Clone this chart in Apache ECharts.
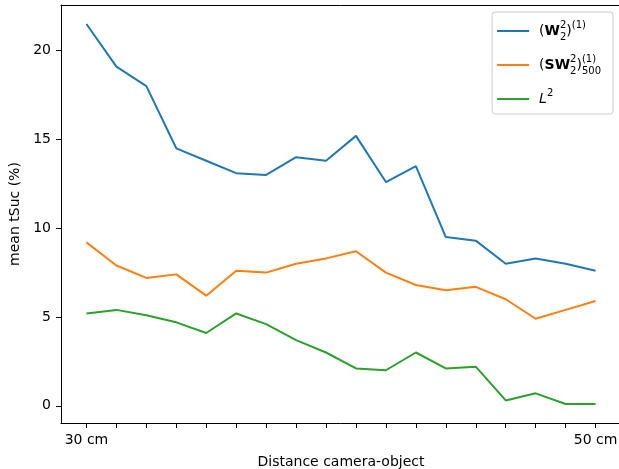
<!DOCTYPE html>
<html>
<head>
<meta charset="utf-8">
<script src="https://cdn.jsdelivr.net/npm/echarts@6/dist/echarts.min.js"></script>
<style>
  html, body { margin: 0; padding: 0; background: #fff; }
  #chart { width: 619px; height: 469px; }
</style>
</head>
<body>
<div id="chart"></div>
<script>
  // distance steps, 30 cm .. 50 cm, only ends are labelled
  const distanceLabels = ['30 cm', '', '', '', '', '', '', '', '', '', '', '', '', '', '', '', '', '50 cm'];
  const yTicks = [0, 5, 10, 15, 20];

  const w2 = [21.5, 19.1, 18.0, 14.5, 13.8, 13.1, 13.0, 14.0, 13.8, 15.2, 12.6, 13.5, 9.5, 9.3, 8.0, 8.3, 8.0, 7.6];
  const sw2 = [9.2, 7.9, 7.2, 7.4, 6.2, 7.6, 7.5, 8.0, 8.3, 8.7, 7.5, 6.8, 6.5, 6.7, 6.0, 4.9, 5.4, 5.9];
  const l2 = [5.2, 5.4, 5.1, 4.7, 4.1, 5.2, 4.6, 3.7, 3.0, 2.1, 2.0, 3.0, 2.1, 2.2, 0.3, 0.7, 0.1, 0.1];

  const seriesNames = ['W2', 'SW2', 'L2'];
  const seriesColors = ['#1f77b4', '#ff7f0e', '#2ca02c'];
  const seriesData = [w2, sw2, l2];

  const font = 'DejaVu Sans';
  const positions = distanceLabels.map((_, i) => i);

  const legendText = {
    W2: '{n|(}{b|W}{supz|2}{sub|2}{n|)}{sup|(1)}',
    SW2: '{n|(}{b|SW}{supz|2}{sub|2}{n|)}{supz|(1)}{sub|500}',
    L2: '{i|L}{sup|2}',
  };

  const spine = { show: true, onZero: false, lineStyle: { color: '#000', width: 1 } };

  const chart = echarts.init(document.getElementById('chart'));

  chart.setOption({
    animation: false,
    textStyle: { fontFamily: font, color: '#000' },
    grid: {
      left: 61,
      top: 5,
      width: 560,
      height: 418,
      outerBoundsMode: 'none',
    },
    legend: {
      orient: 'vertical',
      right: 6,
      top: 12,
      padding: [8, 12, 8, 5],
      icon: 'rect',
      itemWidth: 32,
      itemHeight: 2,
      itemGap: 12,
      backgroundColor: 'rgba(255,255,255,0.8)',
      borderColor: '#cccccc',
      borderWidth: 1,
      borderRadius: 3,
      data: seriesNames,
      formatter: (name) => legendText[name],
      textStyle: {
        fontFamily: font,
        fontSize: 14,
        color: '#000',
        padding: [0, 0, 0, 5],
        rich: {
          n: { fontFamily: font, fontSize: 14, lineHeight: 22 },
          b: { fontFamily: font, fontSize: 14, fontWeight: 'bold', lineHeight: 22 },
          i: { fontFamily: font, fontSize: 14, fontStyle: 'italic', lineHeight: 22 },
          sup: { fontFamily: font, fontSize: 10, lineHeight: 12, verticalAlign: 'top' },
          supz: { fontFamily: font, fontSize: 10, lineHeight: 12, verticalAlign: 'top', width: 0 },
          sub: { fontFamily: font, fontSize: 10, lineHeight: 12, verticalAlign: 'bottom' },
        },
      },
    },
    xAxis: [
      {
        type: 'value',
        min: -0.85,
        max: 17.85,
        name: 'Distance camera-object',
        nameLocation: 'middle',
        nameGap: 32,
        nameTextStyle: { fontFamily: font, fontSize: 14, color: '#000' },
        axisLine: spine,
        splitLine: { show: false },
        axisTick: {
          show: true,
          inside: false,
          length: 5,
          customValues: positions,
          lineStyle: { color: '#000', width: 1 },
        },
        axisLabel: {
          customValues: [0, positions.length - 1],
          formatter: (v) => distanceLabels[Math.round(v)],
          margin: 10,
          fontFamily: font,
          fontSize: 14,
          color: '#000',
        },
      },
      {
        // top spine only
        type: 'value',
        position: 'top',
        min: -0.85,
        max: 17.85,
        axisLine: spine,
        axisTick: { show: false },
        axisLabel: { show: false },
        splitLine: { show: false },
      },
    ],
    yAxis: {
      type: 'value',
      min: -0.97,
      max: 22.57,
      name: 'mean tSuc (%)',
      nameLocation: 'middle',
      nameRotate: 90,
      nameGap: 31,
      nameTextStyle: { fontFamily: font, fontSize: 14, color: '#000' },
      axisLine: spine,
      splitLine: { show: false },
      axisTick: {
        show: true,
        inside: false,
        length: 5,
        customValues: yTicks,
        lineStyle: { color: '#000', width: 1 },
      },
      axisLabel: {
        customValues: yTicks,
        margin: 10,
        fontFamily: font,
        fontSize: 14,
        color: '#000',
      },
    },
    series: seriesNames.map((name, k) => ({
      name,
      type: 'line',
      symbol: 'none',
      data: seriesData[k].map((v, i) => [positions[i], v]),
      color: seriesColors[k],
      lineStyle: { width: 2, color: seriesColors[k] },
    })),
  });
</script>
</body>
</html>
